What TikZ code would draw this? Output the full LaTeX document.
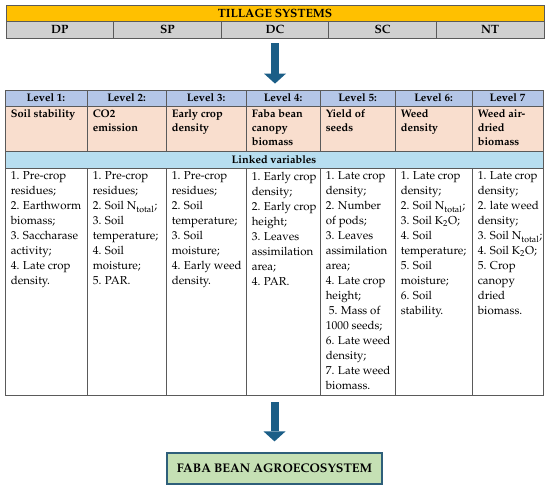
\documentclass[tikz,border=0pt]{standalone}
\usepackage[T1]{fontenc}
\usepackage{mathpazo}
\usetikzlibrary{arrows.meta,positioning}
\definecolor{GoldClr}{HTML}{FFC000}
\definecolor{GrayClr}{HTML}{D0D0D0}
\definecolor{LevelClr}{HTML}{B4C6E7}
\definecolor{TitleClr}{HTML}{F9DECE}
\definecolor{LinkClr}{HTML}{B7DEF0}
\definecolor{AgroClr}{HTML}{C5E0B4}
\definecolor{AgroLine}{HTML}{2E5F7A}
\definecolor{ArrowClr}{HTML}{1B5E87}
\definecolor{GridClr}{HTML}{5A5A5A}

\begin{document}
\begin{tikzpicture}[x=1pt,y=-1pt,
  cell/.style={draw=GridClr,line width=0.8pt,inner sep=0pt,minimum height=#1},
  cell/.default=17pt,
  head/.style={font=\fontsize{11}{13}\selectfont\bfseries},
  tillhead/.style={font=\fontsize{12}{14}\selectfont\bfseries},
  titletxt/.style={inner sep=0pt,align=left,font=\fontsize{11}{14}\selectfont\bfseries},
  vartxt/.style={inner sep=0pt,align=left,font=\fontsize{11.5}{15}\selectfont},
  bigarrow/.style={draw=ArrowClr,line width=8pt,-{Triangle[width=22pt,length=10pt,line width=0pt]}}]
\useasboundingbox (0,0) rectangle (550,487);

% tillage systems
\node[cell=16pt,fill=GoldClr,minimum width=538pt,tillhead] (till) at (275,13) {TILLAGE SYSTEMS};
\node[cell,fill=GrayClr,minimum width=107.6pt,tillhead] (dp) at (59.8,29.5) {DP};
\node[cell,fill=GrayClr,minimum width=107.6pt,tillhead] (sp) at (167.4,29.5) {SP};
\node[cell,fill=GrayClr,minimum width=107.6pt,tillhead] (dc) at (275,29.5) {DC};
\node[cell,fill=GrayClr,minimum width=107.6pt,tillhead] (sc) at (382.6,29.5) {SC};
\node[cell,fill=GrayClr,minimum width=107.6pt,tillhead] (nt) at (490.2,29.5) {NT};

% levels
\node[cell=16pt,fill=LevelClr,minimum width=82pt,head] (lv1) at (46,98) {Level 1:};
\node[cell=16pt,fill=LevelClr,minimum width=79pt,head] (lv2) at (126.5,98) {Level 2:};
\node[cell=16pt,fill=LevelClr,minimum width=80pt,head] (lv3) at (206,98) {Level 3:};
\node[cell=16pt,fill=LevelClr,minimum width=74pt,head] (lv4) at (283,98) {Level 4:};
\node[cell=16pt,fill=LevelClr,minimum width=75pt,head] (lv5) at (357.5,98) {Level 5:};
\node[cell=16pt,fill=LevelClr,minimum width=77pt,head] (lv6) at (433.5,98) {Level 6:};
\node[cell=16pt,fill=LevelClr,minimum width=71pt,head] (lv7) at (507.5,98) {Level 7};

% response variables
\node[cell=45pt,fill=TitleClr,minimum width=82pt] (t1) at (46,128.5) {};
\node[cell=45pt,fill=TitleClr,minimum width=79pt] (t2) at (126.5,128.5) {};
\node[cell=45pt,fill=TitleClr,minimum width=80pt] (t3) at (206,128.5) {};
\node[cell=45pt,fill=TitleClr,minimum width=74pt] (t4) at (283,128.5) {};
\node[cell=45pt,fill=TitleClr,minimum width=75pt] (t5) at (357.5,128.5) {};
\node[cell=45pt,fill=TitleClr,minimum width=77pt] (t6) at (433.5,128.5) {};
\node[cell=45pt,fill=TitleClr,minimum width=71pt] (t7) at (507.5,128.5) {};
\node[titletxt,below right=4pt and 6pt of t1.north west] (tt1) {Soil stability};
\node[titletxt,below right=4pt and 6pt of t2.north west] (tt2) {CO2\\emission};
\node[titletxt,below right=4pt and 6pt of t3.north west] (tt3) {Early crop\\density};
\node[titletxt,below right=4pt and 6pt of t4.north west] (tt4) {Faba bean\\canopy\\biomass};
\node[titletxt,below right=4pt and 6pt of t5.north west] (tt5) {Yield of\\seeds};
\node[titletxt,below right=4pt and 6pt of t6.north west] (tt6) {Weed\\density};
\node[titletxt,below right=4pt and 6pt of t7.north west] (tt7) {Weed air-\\dried\\biomass};

% linked variables
\node[cell,fill=LinkClr,minimum width=538pt,head] (link) at (274,159.5) {Linked variables};

\node[cell=227pt,minimum width=82pt] (v1) at (46,281.5) {};
\node[cell=227pt,minimum width=79pt] (v2) at (126.5,281.5) {};
\node[cell=227pt,minimum width=80pt] (v3) at (206,281.5) {};
\node[cell=227pt,minimum width=74pt] (v4) at (283,281.5) {};
\node[cell=227pt,minimum width=75pt] (v5) at (357.5,281.5) {};
\node[cell=227pt,minimum width=77pt] (v6) at (433.5,281.5) {};
\node[cell=227pt,minimum width=71pt] (v7) at (507.5,281.5) {};
\node[vartxt,below right=4pt and 6pt of v1.north west] (vt1) {1. Pre-crop\\residues;\\2. Earthworm\\biomass;\\3. Saccharase\\activity;\\4. Late crop\\density.};
\node[vartxt,below right=4pt and 6pt of v2.north west] (vt2) {1. Pre-crop\\residues;\\2. Soil N\textsubscript{total};\\3. Soil\\temperature;\\4. Soil\\moisture;\\5. PAR.};
\node[vartxt,below right=4pt and 6pt of v3.north west] (vt3) {1. Pre-crop\\residues;\\2. Soil\\temperature;\\3. Soil\\moisture;\\4. Early weed\\density.};
\node[vartxt,below right=4pt and 6pt of v4.north west] (vt4) {1. Early crop\\density;\\2. Early crop\\height;\\3. Leaves\\assimilation\\area;\\4. PAR.};
\node[vartxt,below right=4pt and 6pt of v5.north west] (vt5) {1. Late crop\\density;\\2. Number\\of pods;\\3. Leaves\\assimilation\\area;\\4. Late crop\\height;\\\hspace*{3pt}5. Mass of\\1000 seeds;\\6. Late weed\\density;\\7. Late weed\\biomass.};
\node[vartxt,below right=4pt and 6pt of v6.north west] (vt6) {1. Late crop\\density;\\2. Soil N\textsubscript{total};\\3. Soil K\textsubscript{2}O;\\4. Soil\\temperature;\\5. Soil\\moisture;\\6. Soil\\stability.};
\node[vartxt,below right=4pt and 6pt of v7.north west] (vt7) {1. Late crop\\density;\\2. late weed\\density;\\3. Soil N\textsubscript{total};\\4. Soil K\textsubscript{2}O;\\5. Crop\\canopy\\dried\\biomass.};

% ecosystem
\node[draw=AgroLine,line width=1.2pt,fill=AgroClr,minimum width=215pt,minimum height=31pt,font=\fontsize{12.5}{14}\selectfont\bfseries] (agro) at (274.5,468.5) {FABA BEAN AGROECOSYSTEM};

\draw[bigarrow,shorten <=5pt,shorten >=6pt] (dc.south) -- (dc.south |- lv1.north);
\draw[bigarrow,shorten <=7pt,shorten >=11pt] (agro.north |- v1.south) -- (agro.north);

\end{tikzpicture}
\end{document}
